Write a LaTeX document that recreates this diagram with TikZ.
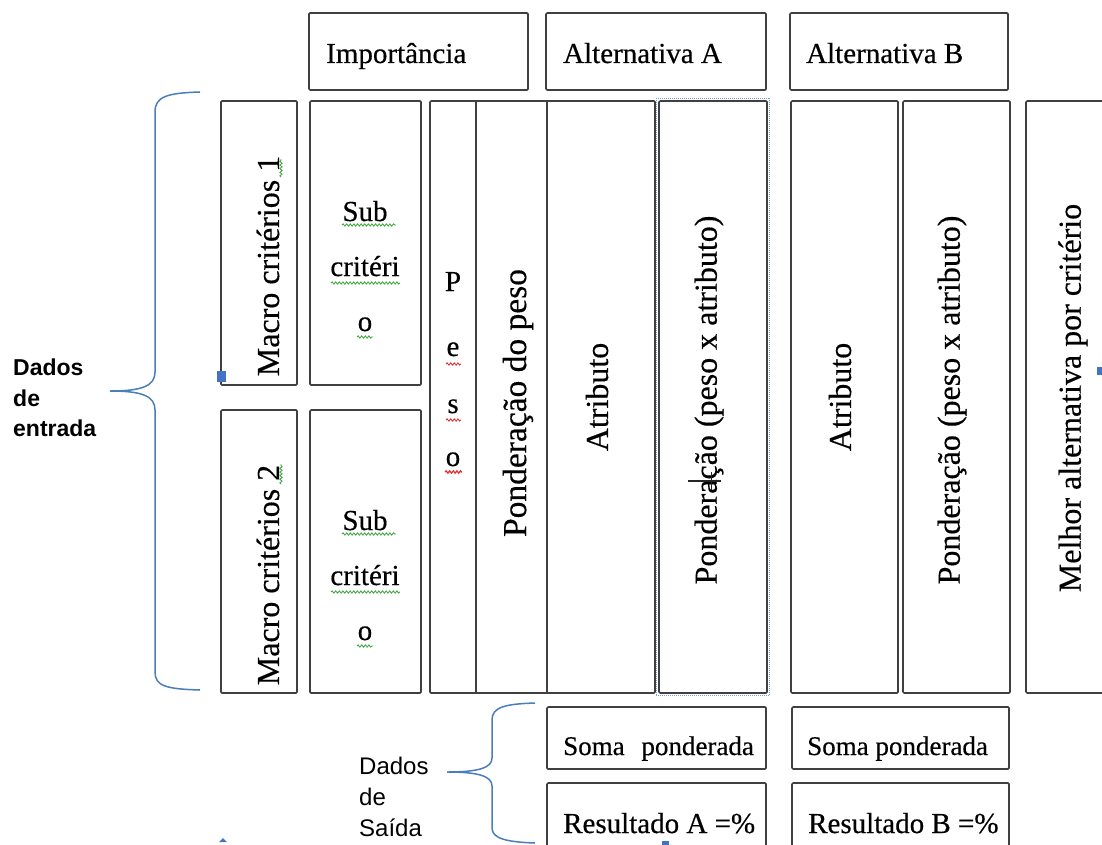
\documentclass[tikz,border=0pt]{standalone}
\usepackage{fontspec}
\setmainfont{Liberation Serif}[FakeBold=0.4]
\newfontfamily\arialfam{Liberation Sans}
\usetikzlibrary{decorations.pathmorphing}

\definecolor{framegray}{RGB}{64,64,64}
\definecolor{braceblue}{RGB}{74,126,187}
\definecolor{handleblue}{RGB}{68,114,196}
\definecolor{dotblue}{RGB}{120,160,220}
\definecolor{spellgreen}{RGB}{70,170,70}
\definecolor{spellred}{RGB}{225,50,50}

\tikzset{
  cellbox/.style={draw=framegray, line width=1.7pt, rounded corners=1.2pt, inner sep=0pt},
  hlbl/.style={font=\fontsize{29}{34}\selectfont, inner sep=0pt},
  slbl/.style={font=\fontsize{27}{32}\selectfont, inner sep=0pt},
  vlbl/.style={font=\fontsize{32}{38}\selectfont, inner sep=0pt, rotate=90},
  bracepath/.style={draw=braceblue, line width=1.5pt},
  squig/.style={line width=0.9pt, decorate,
    decoration={snake, segment length=3.6pt, amplitude=1.1pt}},
  greensquig/.style={squig, draw=spellgreen},
  redsquig/.style={squig, draw=spellred},
  handle/.style={fill=handleblue, draw=none},
}

% \cell{name}{x1}{y1}{x2}{y2}: empty frame between two pixel corners
\newcommand\cell[5]{%
  \node[cellbox, minimum width={(#4-#2)*1pt}, minimum height={(#5-#3)*1pt}]
    (#1) at ({(#2+#4)/2},{(#3+#5)/2}) {};}

\begin{document}
\begin{tikzpicture}[x=1pt, y=-1pt]
\useasboundingbox (0,0) rectangle (1102,845);
\clip (0,0) rectangle (1102,845);
\fill[white] (0,0) rectangle (1102,845);

% ---- header row ----
\cell{impH}{309}{13}{528}{90}
\cell{altAH}{546}{13}{766}{90}
\cell{altBH}{790}{13}{1008}{90}
\node[hlbl, anchor=base west] (impT) at (326,63) {Importância};
\node[hlbl, anchor=base west] (altAT) at (563,63) {Alternativa A};
\node[hlbl, anchor=base west] (altBT) at (806,63) {Alternativa B};

% ---- criteria ----
\cell{mac1}{221}{101}{297}{385}
\cell{mac2}{221}{410}{297}{693}
\cell{sub1}{310}{101}{421}{385}
\cell{sub2}{310}{410}{421}{693}
\node[vlbl] (mac1T) at (268,266) {Macro critérios 1};
\node[vlbl] (mac2T) at (268,575) {Macro critérios 2};
\foreach \dy/\nm in {0/subA, 309/subB}{
  \node[hlbl, anchor=base] (\nm1) at (365,221+\dy) {Sub};
  \node[hlbl, anchor=base] (\nm2) at (365,276+\dy) {critéri};
  \node[hlbl, anchor=base] (\nm3) at (365,331+\dy) {o};
  \draw[greensquig] (342,225+\dy) -- (396,225+\dy);
  \draw[greensquig] (331,283+\dy) -- (400,283+\dy);
  \draw[greensquig] (357,337+\dy) -- (373,337+\dy);
}
\draw[greensquig] (281,177) -- (281,159);
\draw[greensquig] (281,484) -- (281,464);

% ---- weight block: peso | ponderacao do peso | atributo A ----
\cell{grp}{430}{101}{655}{693}
\draw[framegray, line width=1.7pt] (476,101) -- (476,693);
\draw[framegray, line width=1.7pt] (547,101) -- (547,693);
\node[hlbl, anchor=base] (p1) at (453,291) {P};
\node[hlbl, anchor=base] (p2) at (453,356) {e};
\node[hlbl, anchor=base] (p3) at (453,413) {s};
\node[hlbl, anchor=base] (p4) at (453,466) {o};
\draw[redsquig] (446,364) -- (461,364);
\draw[redsquig] (446,420) -- (461,420);
\draw[redsquig, line width=1.3pt] (445,472) -- (462,472);
\node[vlbl, font=\fontsize{33.5}{40}\selectfont] (pondPT) at (518,403) {Ponderação do peso};
\node[vlbl] (atrAT) at (597,397) {Atributo};

% ---- ponderacao A (selected frame) ----
\cell{pondA}{659}{101}{767}{693}
\draw[dotblue, line width=1pt, dash pattern=on 1pt off 1pt]
  (pondA.north west) ++(-2,-2) rectangle ([xshift=2pt,yshift=-2pt]pondA.south east);
\node[vlbl] (pondAT) at (709,400) {Ponderação (peso x atributo)};
\draw[black!85, line width=2.2pt] (688,481) -- (721,481);
\draw[black!85, line width=1pt] (711,472) -- (711,490);

% ---- alternativa B ----
\cell{atrB}{791}{101}{898}{693}
\cell{pondB}{903}{101}{1010}{693}
\node[vlbl] (atrBT) at (840,397) {Atributo};
\node[vlbl] (pondBT) at (952,400) {Ponderação (peso x atributo)};

% ---- best alternative ----
\cell{best}{1026}{101}{1125}{693}
\node[vlbl] (bestT) at (1073,398) {Melhor alternativa por critério};

% ---- outputs ----
\cell{somaA}{547}{707}{766}{769}
\cell{resA}{547}{783}{766}{860}
\cell{somaB}{792}{707}{1009}{769}
\cell{resB}{792}{783}{1009}{860}
\node[slbl, anchor=base west] (somaAT) at (563,755) {Soma\hspace{10pt} ponderada};
\node[hlbl, anchor=base west] (resAT) at (563,833) {Resultado A =\%};
\node[slbl, anchor=base west] (somaBT) at (807,755) {Soma ponderada};
\node[hlbl, anchor=base west] (resBT) at (808,833) {Resultado B =\%};

% ---- braces ----
\coordinate (inTop) at (200,92);
\coordinate (inTip) at (110,391);
\coordinate (inBot) at (200,690);
\draw[bracepath] (inTop) .. controls (166,93) and (155,97) .. (155,112)
  -- (155,372) .. controls (155,386) and (142,391) .. (inTip)
  .. controls (142,391) and (155,396) .. (155,410)
  -- (155,672) .. controls (155,686) and (166,689) .. (inBot);
\coordinate (outTop) at (535,703);
\coordinate (outTip) at (447,772);
\coordinate (outBot) at (535,843);
\draw[bracepath] (outTop) .. controls (505,704) and (492,707) .. (492,720)
  -- (492,758) .. controls (492,768) and (478,772) .. (outTip)
  .. controls (478,772) and (492,776) .. (492,786)
  -- (492,828) .. controls (492,838) and (505,842) .. (outBot);

\node[font=\arialfam\bfseries\fontsize{23}{30.5}\selectfont, align=left,
  anchor=west, inner sep=0pt] (inLbl) at (13,398) {Dados\\de\\entrada};
\node[font=\arialfam\fontsize{24}{31}\selectfont, align=left,
  anchor=west, inner sep=0pt] (outLbl) at (359,797) {Dados\\de\\Saída};

% ---- selection handles ----
\fill[handle] (217,371) rectangle (226,382);
\fill[handle] (662,841) rectangle (669,845);
\fill[handle] (219,842) -- (223,838) -- (227,842) -- cycle;
\fill[handle] (1097,367) rectangle (1102,375);
\end{tikzpicture}
\end{document}
